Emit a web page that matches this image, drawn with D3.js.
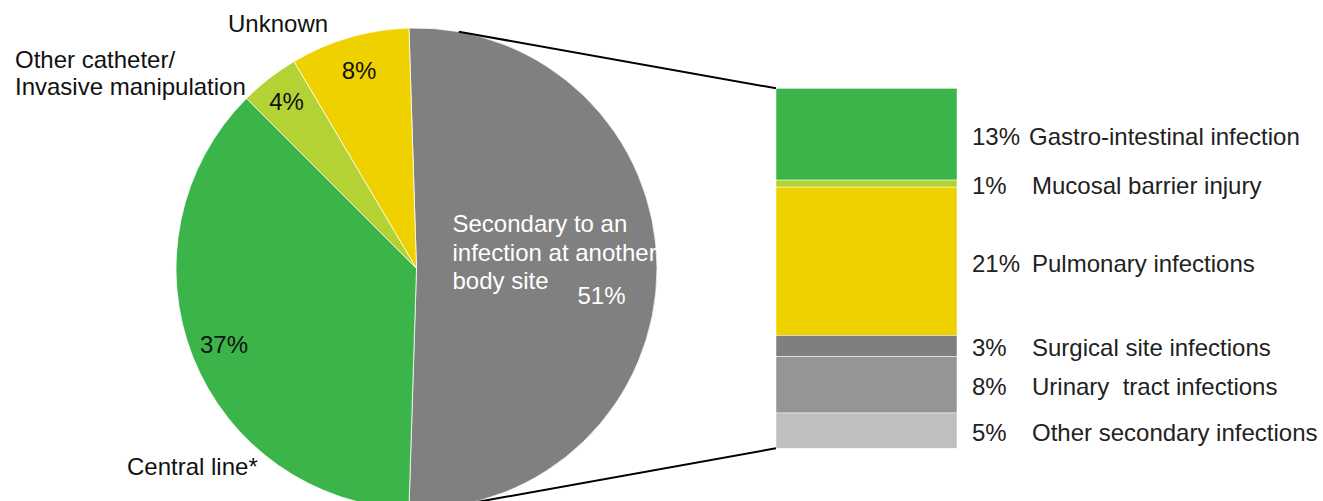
<!DOCTYPE html>
<html>
<head>
<meta charset="utf-8">
<script src="https://cdn.jsdelivr.net/npm/d3@7"></script>
<style>
  body { margin: 0; background: #fff; }
  svg text { font-family: "Liberation Sans", Arial, sans-serif; }
</style>
</head>
<body>
<svg id="chart" width="1323" height="501"></svg>
<script>
// pie: source of bloodstream infection
const pieCategories = ["Secondary to an infection at another body site", "Central line*", "Other catheter/ Invasive manipulation", "Unknown"];
const pieValues = [51, 37, 4, 8];
const pieLabels = ["51%", "37%", "4%", "8%"];
const pieColors = ["#808080", "#3bb54a", "#b3d335", "#efd100"];

// bar: breakdown of the secondary slice
const barCategories = ["Gastro-intestinal infection", "Mucosal barrier injury", "Pulmonary infections", "Surgical site infections", "Urinary  tract infections", "Other secondary infections"];
const barValues = [13, 1, 21, 3, 8, 5];
const barLabels = ["13%", "1%", "21%", "3%", "8%", "5%"];
const barColors = ["#3bb54a", "#b3d335", "#efd100", "#7f7f7f", "#959595", "#bfbfbf"];

const fs = 24;
const svg = d3.select("svg#chart");
svg.append("rect").attr("width", 1323).attr("height", 501).attr("fill", "#fff");

const cx = 416.5, cy = 268.5, r = 240.5;
const total = d3.sum(pieValues);
// split slice centred on 3 o'clock, like Excel's pie-of-bar
const offset = (pieValues[0] / total * 2 * Math.PI - Math.PI) / 2;

const pie = d3.pie().sort(null).value(d => d)
              .startAngle(-offset).endAngle(2 * Math.PI - offset);
const arcs = pie(pieValues);
const arc = d3.arc().innerRadius(0).outerRadius(r);

const gPie = svg.append("g").attr("transform", `translate(${cx}, ${cy})`);
gPie.selectAll("path")
    .data(arcs)
    .enter().append("path")
            .attr("d", arc)
            .attr("fill", (d, i) => pieColors[i])
            .attr("stroke", "#fff")
            .attr("stroke-width", 0.75);

// percent labels for the small slices
const labelRadius = [0, 207, 212, 206];
gPie.selectAll(".pct")
    .data(arcs.slice(1))
    .enter().append("text")
            .attr("class", "pct")
            .attr("x", (d, i) => Math.sin((d.startAngle + d.endAngle) / 2) * labelRadius[i + 1])
            .attr("y", (d, i) => -Math.cos((d.startAngle + d.endAngle) / 2) * labelRadius[i + 1])
            .attr("text-anchor", "middle")
            .attr("dominant-baseline", "central")
            .attr("font-size", fs)
            .attr("fill", "#111")
            .text((d, i) => pieLabels[i + 1]);

// label inside the big grey slice
const gSec = gPie.append("g").attr("transform", "translate(36, -45)");
["Secondary to an", "infection at another", "body site"].forEach((t, i) => {
  gSec.append("text")
      .attr("x", 0).attr("y", i * 28.5)
      .attr("dominant-baseline", "central")
      .attr("font-size", fs)
      .attr("fill", "#fff")
      .text(t);
});
gSec.append("text")
    .attr("x", 173).attr("y", 72)
    .attr("text-anchor", "end")
    .attr("dominant-baseline", "central")
    .attr("font-size", fs)
    .attr("fill", "#fff")
    .text(pieLabels[0]);

// category names outside the pie
const outside = [
  { lines: ["Unknown"], x: 228, y: 23 },
  { lines: ["Other catheter/", "Invasive manipulation"], x: 15, y: 59 },
  { lines: ["Central line*"], x: 127, y: 466 }
];
outside.forEach(o => {
  o.lines.forEach((t, i) => {
    svg.append("text")
       .attr("x", o.x).attr("y", o.y + i * 27)
       .attr("dominant-baseline", "central")
       .attr("font-size", fs)
       .attr("fill", "#111")
       .text(t);
  });
});

// stacked bar
const barX = 776, barW = 181;
const y = d3.scaleLinear().domain([0, d3.sum(barValues)]).range([88.3, 448.3]);
const stacked = [];
barValues.reduce((acc, v, i) => { stacked.push({ y0: acc, y1: acc + v, i }); return acc + v; }, 0);

svg.append("g").selectAll("rect")
   .data(stacked)
   .enter().append("rect")
           .attr("x", barX)
           .attr("y", d => y(d.y0))
           .attr("width", barW)
           .attr("height", d => y(d.y1) - y(d.y0))
           .attr("fill", d => barColors[d.i])
           .attr("stroke", "#fff")
           .attr("stroke-width", 0.5);

const gLab = svg.append("g");
gLab.selectAll(".bpct")
    .data(stacked)
    .enter().append("text")
            .attr("x", 972)
            .attr("y", d => (y(d.y0) + y(d.y1)) / 2 + 2)
            .attr("dominant-baseline", "central")
            .attr("font-size", fs)
            .attr("fill", "#222")
            .text(d => barLabels[d.i]);
gLab.selectAll(".bname")
    .data(stacked)
    .enter().append("text")
            .attr("x", d => d.i === 0 ? 1029 : 1032)
            .attr("y", d => (y(d.y0) + y(d.y1)) / 2 + 2)
            .attr("dominant-baseline", "central")
            .attr("font-size", fs)
            .attr("fill", "#222")
            .style("white-space", "pre")
            .text(d => barCategories[d.i]);

// connector lines: tangents from the bar corners to the pie
function tangent(px, py, sign) {
  const dx = px - cx, dy = py - cy;
  const d = Math.hypot(dx, dy);
  const a = Math.atan2(dy, dx) + sign * Math.acos(r / d);
  return [cx + r * Math.cos(a), cy + r * Math.sin(a)];
}
const tTop = tangent(barX, y(0), -1);
const tBot = tangent(barX, y(d3.sum(barValues)), 1);
svg.append("line")
   .attr("x1", tTop[0]).attr("y1", tTop[1]).attr("x2", barX).attr("y2", y(0))
   .attr("stroke", "#000").attr("stroke-width", 2);
svg.append("line")
   .attr("x1", tBot[0]).attr("y1", tBot[1]).attr("x2", barX).attr("y2", y(d3.sum(barValues)))
   .attr("stroke", "#000").attr("stroke-width", 2);
</script>
</body>
</html>
